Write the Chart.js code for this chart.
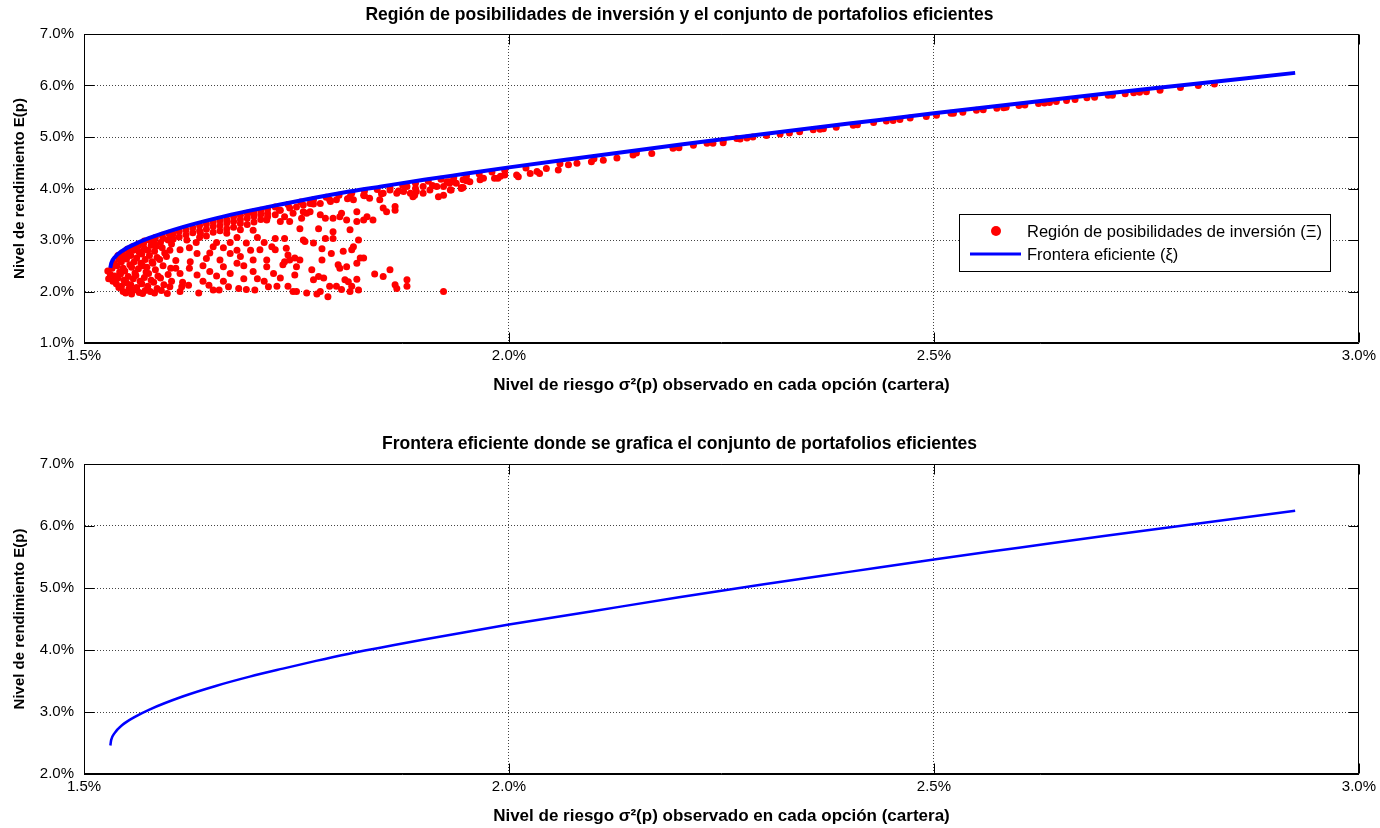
<!DOCTYPE html>
<html>
<head>
<meta charset="utf-8">
<script src="https://cdn.jsdelivr.net/npm/chart.js@4/dist/chart.umd.min.js"></script>
<style>
  body { margin: 0; background: #fff; }
  #wrap { position: relative; width: 1380px; height: 828px; }
  .panel { position: absolute; left: 0; width: 1380px; height: 414px; }
</style>
</head>
<body>
<div id="wrap">
  <div class="panel" style="top:0"><canvas id="topChart"></canvas></div>
  <div class="panel" style="top:414px"><canvas id="bottomChart"></canvas></div>
</div>
<script>
// efficient frontier (risk %, return %)
const frontierRisk   = [1.531, 1.532, 1.536, 1.545, 1.561, 1.577, 1.616, 1.655, 1.695, 1.734, 1.773, 1.812, 1.850, 1.900, 1.950, 2.000, 2.100, 2.200, 2.300, 2.400, 2.500, 2.600, 2.700, 2.800, 2.925];
const frontierReturn = [2.46, 2.55, 2.66, 2.79, 2.93, 3.04, 3.25, 3.42, 3.57, 3.70, 3.825, 3.94, 4.04, 4.17, 4.29, 4.41, 4.63, 4.85, 5.06, 5.26, 5.46, 5.65, 5.84, 6.02, 6.245];

// random portfolios (red cloud), [risk, return]
const cloudLeft = [
  [1.529,2.25],[1.531,2.33],[1.528,2.40],
  [1.534,2.20],[1.536,2.30],[1.533,2.45],[1.535,2.55],
  [1.541,2.08],[1.538,2.15],[1.540,2.26],[1.542,2.38],[1.539,2.50],[1.541,2.62],[1.540,2.70],
  [1.546,2.00],[1.544,2.10],[1.547,2.22],[1.543,2.34],[1.546,2.45],[1.544,2.58],[1.547,2.68],[1.545,2.75],
  [1.549,1.97],[1.553,2.06],[1.550,2.17],[1.552,2.29],[1.548,2.40],[1.554,2.52],[1.550,2.63],[1.552,2.72],[1.551,2.82],
  [1.556,1.95],[1.559,2.03],[1.555,2.13],[1.558,2.25],[1.560,2.36],[1.556,2.47],[1.559,2.58],[1.555,2.70],[1.558,2.80],[1.557,2.87],
  [1.565,1.98],[1.562,2.08],[1.566,2.20],[1.561,2.31],[1.564,2.44],[1.567,2.55],[1.562,2.65],[1.565,2.76],[1.563,2.86],[1.564,2.92],
  [1.569,1.96],[1.572,2.02],[1.568,2.15],[1.571,2.27],[1.573,2.38],[1.569,2.50],[1.572,2.62],[1.568,2.73],[1.571,2.83],[1.570,2.92],[1.571,2.98],
  [1.578,2.00],[1.575,2.10],[1.579,2.22],[1.576,2.35],[1.574,2.47],[1.580,2.58],[1.577,2.70],[1.575,2.80],[1.579,2.90],[1.577,3.00],
  [1.583,1.97],[1.586,2.06],[1.582,2.18],[1.587,2.30],[1.584,2.42],[1.581,2.55],[1.586,2.66],[1.583,2.78],[1.585,2.88],[1.582,2.97],[1.584,3.05],
  [1.591,2.02],[1.594,2.13],[1.590,2.26],[1.593,2.50],[1.589,2.62],[1.595,2.75],[1.592,2.85],[1.590,2.95],[1.593,3.03],[1.592,3.09],
  [1.598,1.96],[1.601,2.09],[1.603,2.20],[1.599,2.33],[1.602,2.45],[1.597,2.68],[1.601,2.80],[1.603,2.92],[1.599,3.00],[1.601,3.08],[1.600,3.13]
];
const cloudMiddle = [
  [1.615,2.09],[1.623,2.12],[1.635,1.97],[1.647,2.12],[1.659,2.03],[1.670,2.09],[1.682,2.06],[1.701,2.03],[1.717,2.09],
  [1.715,2.48],[1.699,2.39],[1.680,2.55],[1.664,2.48],[1.648,2.39],[1.633,2.32],[1.613,2.35],[1.691,2.04],[1.652,2.03],[1.613,2.00],
  [1.621,3.00],[1.637,3.13],[1.652,3.26],[1.668,3.13],[1.684,3.32],[1.699,3.19],[1.715,3.39],[1.613,2.81],[1.633,2.74],[1.652,2.87],
  [1.672,2.74],[1.691,2.94],[1.707,2.81],[1.625,2.58],[1.644,2.64],[1.660,2.61],[1.684,2.68],[1.699,2.61],[1.715,2.61],[1.668,3.40],[1.699,3.52],
  [1.605,3.12],[1.605,3.02],[1.612,3.17],[1.612,3.06],[1.620,3.20],[1.620,3.10],[1.628,3.24],[1.628,3.14],[1.636,3.28],[1.636,3.18],
  [1.636,3.05],[1.644,3.31],[1.644,3.21],[1.644,3.08],[1.652,3.35],[1.652,3.15],[1.660,3.38],[1.660,3.28],[1.660,3.18],[1.668,3.33],
  [1.668,3.22],[1.676,3.45],[1.676,3.36],[1.676,3.25],[1.684,3.48],[1.684,3.40],[1.684,3.20],[1.692,3.52],[1.692,3.42],[1.692,3.30],
  [1.700,3.55],[1.700,3.46],[1.700,3.35],[1.708,3.58],[1.708,3.50],[1.708,3.40],[1.716,3.60],[1.716,3.52],[1.716,3.45],
  [1.608,2.60],[1.608,2.45],[1.616,2.18],[1.624,2.45],[1.624,2.85],[1.632,2.95],[1.640,2.50],[1.640,2.20],[1.648,2.75],[1.656,2.30],
  [1.656,2.95],[1.664,2.85],[1.664,2.20],[1.672,2.95],[1.672,2.35],[1.680,2.80],[1.680,3.05],[1.688,2.50],[1.688,2.25],[1.696,2.80],
  [1.704,3.05],[1.704,2.25],[1.712,2.95],[1.712,2.20]
];
const cloudRight = [
  [1.725,3.49],[1.731,3.36],[1.736,3.45],[1.742,3.36],[1.746,3.52],[1.756,3.42],[1.758,3.55],[1.762,3.52],[1.766,3.55],[1.778,3.49],
  [1.784,3.42],[1.793,3.42],[1.801,3.45],[1.803,3.52],[1.809,3.39],[1.821,3.55],[1.829,3.39],[1.833,3.45],[1.840,3.39],[1.852,3.62],
  [1.856,3.55],[1.866,3.65],[1.866,3.58],
  [1.754,3.22],[1.776,3.22],[1.793,3.16],[1.813,3.20],[1.821,3.36],[1.725,3.03],[1.736,3.03],[1.758,3.00],[1.760,2.97],[1.770,2.94],
  [1.784,3.03],[1.793,3.03],[1.823,3.00],[1.780,2.83],[1.791,2.74],[1.805,2.78],[1.817,2.87],[1.815,2.81],[1.721,2.87],[1.725,2.81],
  [1.738,2.84],[1.740,2.71],[1.742,2.61],[1.748,2.65],[1.754,2.61],[1.736,2.58],[1.734,2.52],[1.750,2.48],[1.768,2.42],[1.780,2.61],
  [1.799,2.52],[1.801,2.45],[1.809,2.48],[1.825,2.65],[1.829,2.65],[1.821,2.55],
  [1.723,2.35],[1.731,2.26],[1.748,2.32],[1.770,2.23],[1.776,2.29],[1.782,2.26],[1.789,2.10],[1.797,2.10],[1.807,2.23],[1.811,2.19],
  [1.821,2.24],[1.815,2.10],[1.842,2.34],[1.852,2.29],[1.860,2.42],[1.880,2.23],[1.880,2.10],[1.866,2.13],[1.868,2.06],[1.727,2.10],
  [1.740,2.10],[1.746,2.00],[1.750,2.00],[1.762,1.97],[1.774,1.95],[1.778,2.00],[1.787,1.90],[1.803,2.04],[1.813,2.00],[1.823,2.03],[1.923,2.00],
  [1.868,3.91],[1.876,3.94],[1.884,3.91],[1.891,3.94],[1.899,3.91],[1.887,3.84],[1.915,4.04],[1.932,3.97],[1.946,4.02],[1.899,4.04],
  [1.923,3.87],[1.848,3.78],[1.836,3.81],[1.817,3.78],[1.797,3.78],[1.778,3.71],[1.758,3.68],[1.742,3.62],[1.731,3.58],[1.907,3.97],
  [1.880,4.04],[1.860,3.97],[1.852,3.91],[1.829,3.87],[1.813,3.84],[1.789,3.78],[1.766,3.71],[1.938,4.10],[1.950,4.17],[1.930,4.13],
  [1.889,3.87],[1.917,3.84],[1.944,4.00]
];
const cloudEdge = [
  [1.725,3.64],[1.740,3.69],[1.755,3.74],[1.770,3.78],[1.785,3.83],[1.800,3.87],[1.815,3.91],[1.830,3.95],[1.845,3.98],[1.860,4.02],
  [1.875,4.06],[1.890,4.10],[1.905,4.14],[1.920,4.18],[1.935,4.21],[1.950,4.25],[1.965,4.28],[1.980,4.32],[1.995,4.35],
  [1.730,3.58],[1.750,3.64],[1.770,3.70],[1.790,3.75],[1.810,3.80],[1.830,3.86],[1.850,3.90],[1.870,3.95],[1.890,4.00],[1.910,4.06],
  [1.930,4.10],[1.950,4.15],[1.970,4.20],[1.990,4.24]
];
const cloudUpper = [
  [1.923,4.04],[1.931,3.97],[1.944,4.02],[1.927,4.13],[1.935,4.13],[1.946,4.17],[1.954,4.13],[1.966,4.17],[1.983,4.20],[1.987,4.20],
  [1.995,4.26],[2.009,4.26],[2.011,4.23],[2.025,4.29],[2.033,4.33],[2.036,4.29],[2.044,4.39],[2.058,4.36],[2.070,4.46],[2.080,4.49],
  [2.097,4.52],[2.111,4.55],[2.127,4.59],[2.146,4.65],[2.168,4.68],[2.193,4.78],[2.217,4.84],[2.233,4.88],[2.252,4.89],[2.268,4.97],
  [2.252,4.93],[2.272,4.96],[2.287,5.00],[2.303,5.03],[2.319,5.06],[2.342,5.10],[2.358,5.14],[2.366,5.15],[2.385,5.19],[2.405,5.23],
  [2.429,5.28],[2.444,5.31],[2.452,5.32],[2.472,5.37],[2.491,5.40],[2.503,5.42],[2.523,5.46],[2.534,5.48],[2.558,5.53],[2.574,5.56],
  [2.585,5.58],[2.582,5.57],[2.607,5.62],[2.623,5.65],[2.636,5.67],[2.644,5.69],[2.656,5.71],[2.666,5.73],[2.689,5.77],[2.705,5.81],
  [2.725,5.84],[2.735,5.86],[2.742,5.87],[2.766,5.91],[2.811,6.00],
  [2.020,4.40],[2.060,4.48],[2.100,4.58],[2.150,4.69],[2.200,4.79],[2.240,4.88],[2.280,4.98],[2.330,5.08],[2.370,5.16],[2.410,5.24],
  [2.460,5.34],[2.520,5.46],[2.550,5.52],[2.600,5.61],[2.630,5.66],[2.680,5.76],[2.710,5.81],[2.750,5.88],[2.790,5.96],[2.830,6.03]
];

// axis ticks
const riskTicks = [1.5, 2.0, 2.5, 3.0];
const topReturnTicks = [1, 2, 3, 4, 5, 6, 7];
const bottomReturnTicks = [2, 3, 4, 5, 6, 7];

// texts
const topTitle = "Región de posibilidades de inversión y el conjunto de portafolios eficientes";
const bottomTitle = "Frontera eficiente donde se grafica el conjunto de portafolios eficientes";
const xTitle = "Nivel de riesgo σ²(p) observado en cada opción (cartera)";
const yTitle = "Nivel de rendimiento E(p)";
const cloudLabel = "Región de posibilidades de inversión (Ξ)";
const frontierLabel = "Frontera eficiente (ξ)";

const FONT = '"Liberation Sans", Arial, Helvetica, sans-serif';
Chart.defaults.font.family = FONT;
Chart.defaults.font.size = 15;
Chart.defaults.color = '#000';

const pct = v => Number(v).toFixed(1) + '%';
const frontierData = frontierRisk.map((r, i) => ({ x: r, y: frontierReturn[i] }));
const cloudData = [].concat(cloudLeft, cloudMiddle, cloudRight, cloudEdge, cloudUpper)
  .map(p => ({ x: p[0], y: p[1] }));

// matlab style box with inward ticks
const axesBox = {
  id: 'axesBox',
  afterDatasetsDraw(chart) {
    const { ctx, chartArea: a, scales } = chart;
    const L = Math.round(a.left) + 0.5, R = Math.round(a.right) - 0.5;
    const T = Math.round(a.top) + 0.5, B = Math.round(a.bottom) - 0.5;
    const tl = 10;
    ctx.save();
    ctx.strokeStyle = '#000';
    ctx.lineWidth = 1;
    ctx.beginPath();
    ctx.rect(L, T, R - L, B - T);
    scales.x.ticks.forEach(t => {
      const px = Math.round(scales.x.getPixelForValue(t.value)) + 0.5;
      ctx.moveTo(px, B); ctx.lineTo(px, B - tl);
      ctx.moveTo(px, T); ctx.lineTo(px, T + tl);
    });
    scales.y.ticks.forEach(t => {
      const py = Math.round(scales.y.getPixelForValue(t.value)) + 0.5;
      ctx.moveTo(L, py); ctx.lineTo(L + tl, py);
      ctx.moveTo(R, py); ctx.lineTo(R - tl, py);
    });
    ctx.stroke();
    ctx.restore();
  }
};

// legend box inside the top axes
const insideLegend = {
  id: 'insideLegend',
  afterDraw(chart) {
    const { ctx, chartArea: a } = chart;
    const line = chart.data.datasets[0], cloud = chart.data.datasets[1];
    const left = Math.round(a.right) - 400, top = Math.round(a.top) + 180, w = 371, h = 57;
    ctx.save();
    ctx.fillStyle = '#fff';
    ctx.fillRect(left, top, w, h);
    ctx.strokeStyle = '#000';
    ctx.lineWidth = 1;
    ctx.strokeRect(left + 0.5, top + 0.5, w, h);
    ctx.beginPath();
    ctx.arc(left + 37, top + 17, 5, 0, Math.PI * 2);
    ctx.fillStyle = cloud.backgroundColor;
    ctx.fill();
    ctx.beginPath();
    ctx.moveTo(left + 11, top + 40);
    ctx.lineTo(left + 62, top + 40);
    ctx.strokeStyle = line.borderColor;
    ctx.lineWidth = 3;
    ctx.stroke();
    ctx.fillStyle = '#000';
    ctx.font = '16.5px ' + FONT;
    ctx.textBaseline = 'middle';
    ctx.fillText(cloud.label, left + 68, top + 18);
    ctx.fillText(line.label, left + 68, top + 41);
    ctx.restore();
  }
};

function makeOptions(cfg) {
  return {
    responsive: true,
    maintainAspectRatio: false,
    animation: false,
    layout: { padding: { left: 0, right: 21, top: 0, bottom: 0 } },
    plugins: {
      legend: { display: false },
      tooltip: { enabled: false },
      title: {
        display: true,
        text: cfg.title,
        color: '#000',
        font: { size: 17.5, weight: 'bold', lineHeight: 1 },
        padding: cfg.titlePadding
      }
    },
    scales: {
      x: {
        type: 'linear',
        min: 1.5,
        max: 3.0,
        afterBuildTicks: s => { s.ticks = riskTicks.map(v => ({ value: v })); },
        afterFit: s => { s.height = cfg.xHeight; },
        ticks: { callback: pct, padding: 4, maxRotation: 0, autoSkip: false, color: '#000' },
        grid: { color: '#444', lineWidth: 1, drawTicks: false },
        border: { color: '#000', width: 1, dash: [1, 2] },
        title: {
          display: true,
          text: xTitle,
          color: '#000',
          font: { size: 17, weight: 'bold', lineHeight: 1.2 },
          padding: { top: 0, bottom: cfg.xTitleBottom }
        }
      },
      y: {
        type: 'linear',
        min: cfg.yTicks[0],
        max: cfg.yTicks[cfg.yTicks.length - 1],
        afterBuildTicks: s => { s.ticks = cfg.yTicks.map(v => ({ value: v })); },
        afterFit: s => { s.width = 84; },
        ticks: { callback: pct, padding: 10, color: '#000' },
        grid: { color: '#444', lineWidth: 1, drawTicks: false },
        border: { color: '#000', width: 1, dash: [1, 2] },
        title: {
          display: true,
          text: yTitle,
          color: '#000',
          font: { size: 15, weight: 'bold', lineHeight: 1.2 },
          padding: { top: 11, bottom: 0 }
        }
      }
    }
  };
}

new Chart(document.getElementById('topChart'), {
  type: 'scatter',
  data: {
    datasets: [
      {
        type: 'line',
        label: frontierLabel,
        data: frontierData,
        borderColor: '#0000ff',
        borderWidth: 4,
        pointRadius: 0,
        fill: false,
        cubicInterpolationMode: 'monotone',
        order: 0
      },
      {
        type: 'scatter',
        label: cloudLabel,
        data: cloudData,
        backgroundColor: '#ff0000',
        borderWidth: 0,
        pointRadius: 3.5,
        order: 1
      }
    ]
  },
  options: makeOptions({
    title: topTitle,
    titlePadding: { top: 6, bottom: 10.5 },
    xHeight: 71,
    xTitleBottom: 18,
    yTicks: topReturnTicks
  }),
  plugins: [axesBox, insideLegend]
});

new Chart(document.getElementById('bottomChart'), {
  type: 'scatter',
  data: {
    datasets: [
      {
        type: 'line',
        label: frontierLabel,
        data: frontierData,
        borderColor: '#0000ff',
        borderWidth: 2.5,
        pointRadius: 0,
        fill: false,
        cubicInterpolationMode: 'monotone'
      }
    ]
  },
  options: makeOptions({
    title: bottomTitle,
    titlePadding: { top: 21, bottom: 11.5 },
    xHeight: 54,
    xTitleBottom: 1,
    yTicks: bottomReturnTicks
  }),
  plugins: [axesBox]
});
</script>
</body>
</html>
